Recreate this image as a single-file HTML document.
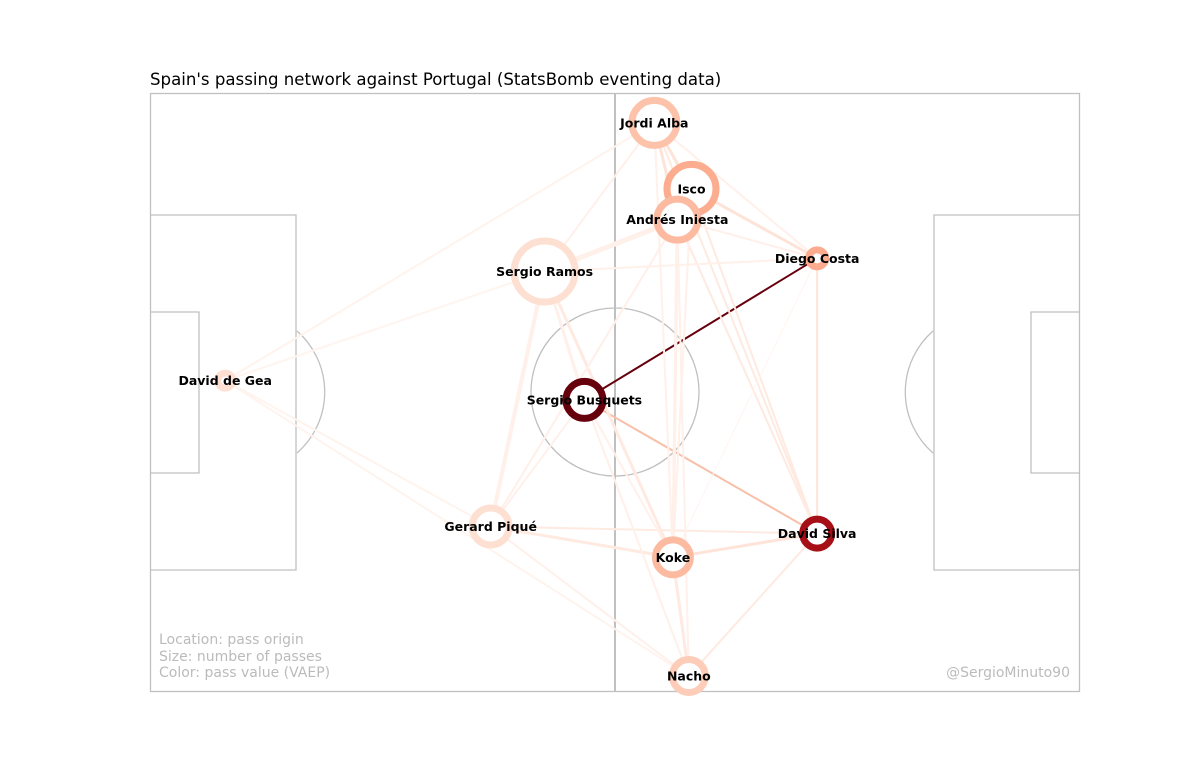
<!DOCTYPE html>
<html><head><meta charset="utf-8"><style>
body{margin:0;background:#fff;}
svg text{font-family:"DejaVu Sans","Liberation Sans",sans-serif;}
</style></head><body>
<svg width="1200" height="777" viewBox="0 0 1200 777" xmlns="http://www.w3.org/2000/svg">
<rect width="1200" height="777" fill="#fff"/>
<text x="150" y="85" font-size="16.6" fill="#000">Spain's passing network against Portugal (StatsBomb eventing data)</text>
<g id="pitch" fill="none" stroke="#c0c0c0" stroke-width="1.3">
<rect x="150.5" y="93.5" width="929" height="598"/>
<line x1="615" y1="93" x2="615" y2="691" stroke-width="2"/>
<circle cx="615" cy="392" r="84"/>
<path d="M150 215 H296 V570 H150"/>
<path d="M150 312 H199 V473 H150"/>
<path d="M297 331 A81 81 0 0 1 297 453"/>
<path d="M1079 215 H934 V570 H1079"/>
<path d="M1079 312 H1031 V473 H1079"/>
<path d="M933 331 A81 81 0 0 0 933 453"/>
</g>
<g id="edges"></g>
<g id="nodes"></g>
<text x="159" y="644" font-size="14" fill="#bbb">Location: pass origin</text>
<text x="159" y="661" font-size="14" fill="#bbb">Size: number of passes</text>
<text x="159" y="677" font-size="14" fill="#bbb">Color: pass value (VAEP)</text>
<text x="1070" y="677" font-size="14" fill="#bbb" text-anchor="end">@SergioMinuto90</text>
</svg>
<script>
const players = ["Jordi Alba","Isco","Andrés Iniesta","Diego Costa","Sergio Ramos","David de Gea","Sergio Busquets","Gerard Piqué","Koke","David Silva","Nacho"];
const posX = [57.0,61.2,59.6,75.4,44.6,8.5,49.1,38.5,59.1,75.4,60.9];
const posY = [3.4,10.9,14.4,18.8,20.3,32.7,34.9,49.3,52.8,50.1,66.3];
const passCount = [26,28,24,12,34,11,22,22,21,18,20];
const nodeColor = ["#fcc2aa","#fcac8f","#fcbba1","#fcab8f","#fee0d2","#fee0d2","#67000d","#fee0d2","#fcbba1","#a50f15","#fdcdb9"];
const edgeFrom = [6,6,0,0,0,0,0,1,1,1,2,2,2,2,2,4,4,4,4,4,5,5,5,5,7,7,7,7,8,8,8,9,9,3,6,6,6,2,1,0,4,6];
const edgeTo   = [3,9,4,1,2,3,9,3,2,9,4,3,8,10,9,2,7,3,8,6,4,0,7,10,8,9,10,2,9,10,2,10,3,8,8,10,4,7,8,8,5,7];
const edgeWidth= [2,2,2,3,3,2,2,3,2,2,5,2,3,2,2,4,4,2,3,3,2,2,2,2,3,2,2,2,3,3,3,2,2,1,2,2,3,2,2,2,2,2];
const edgeColor= ["#67000d","#f8bfa8","#fff0ea","#fee4d8","#fee4d8","#fff0ea","#feeae0","#fee4d8","#feeae0","#feeae0","#fff0ea","#fff0ea","#feeae0","#fff0ea","#feeae0","#fff0ea","#fff0ea","#fff0ea","#feeae0","#fff0ea","#fff3ee","#fff3ee","#fff3ee","#fff3ee","#feeae0","#feeae0","#fff0ea","#fff0ea","#fee4d8","#feeae0","#fff0ea","#feeae0","#fee4d8","#fff5f0","#fff0ea","#fff0ea","#fff0ea","#fff0ea","#fff0ea","#fff0ea","#fff5f0","#fff0ea"];
const NS="http://www.w3.org/2000/svg";
function sx(m){return 150+m*8.848;}
function sy(m){return 93+m*8.794;}
const eg=document.getElementById('edges');
for(let i=0;i<edgeFrom.length;i++){
  const l=document.createElementNS(NS,'line');
  l.setAttribute('x1',sx(posX[edgeFrom[i]]));l.setAttribute('y1',sy(posY[edgeFrom[i]]));
  l.setAttribute('x2',sx(posX[edgeTo[i]]));l.setAttribute('y2',sy(posY[edgeTo[i]]));
  l.setAttribute('stroke',edgeColor[i]);l.setAttribute('stroke-width',edgeWidth[i]);
  
  
  eg.appendChild(l);
}
const ng=document.getElementById('nodes');
for(let i=0;i<players.length;i++){
  const c=document.createElementNS(NS,'circle');
  c.setAttribute('cx',sx(posX[i]));c.setAttribute('cy',sy(posY[i]));
  const r=passCount[i];
  c.setAttribute('r',r-3.5);c.setAttribute('fill','#fff');
  c.setAttribute('stroke',nodeColor[i]);c.setAttribute('stroke-width',7);
  
  
  ng.appendChild(c);
}
for(let i=0;i<players.length;i++){
  const t=document.createElementNS(NS,'text');
  t.setAttribute('x',sx(posX[i]));t.setAttribute('y',sy(posY[i])+4.5);
  t.setAttribute('text-anchor','middle');t.setAttribute('font-size','12.5');t.setAttribute('font-weight','bold');
  t.textContent=players[i];
  
  
  ng.appendChild(t);
}
</script>
</body></html>
